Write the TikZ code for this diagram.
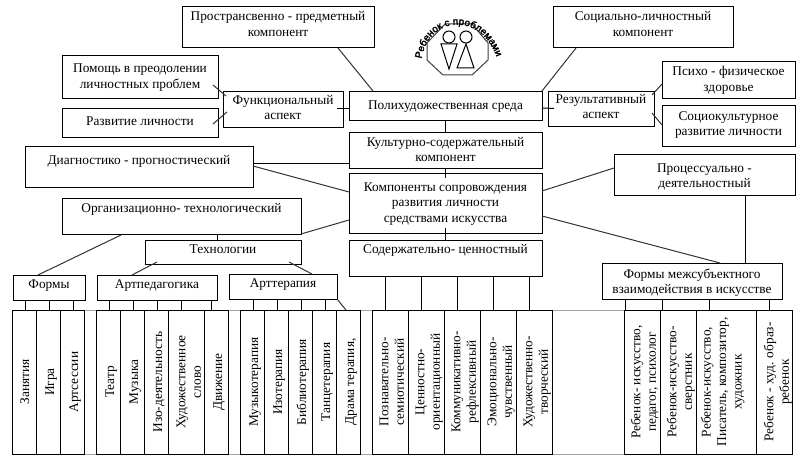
\documentclass[tikz,border=0pt]{standalone}
\usepackage{fontspec}
\setmainfont{Liberation Serif}
\newfontfamily\iconfont{Liberation Sans}[FakeBold=2.5]
\usetikzlibrary{calc,decorations.text}
\tikzset{
  boxst/.style={draw=black,line width=1pt,inner sep=0pt,outer sep=0pt,fill=white,
    font=\fontsize{13.33}{15.5}\selectfont},
  colst/.style={draw=black,line width=1pt,inner sep=0pt,outer sep=0pt,fill=white,
    rotate=90,minimum width=144pt,font=\fontsize{13.33}{15.5}\selectfont},
  link/.style={draw=black!80,line width=1pt},
  hlink/.style={draw=black,line width=1pt},
  iconline/.style={draw=black!75,line width=1pt},
}
\newcommand\bx[7]{%
  \node[boxst,minimum width={(#4-#2)*1pt},minimum height={(#5-#3)*1pt}]
    (#1) at ({(#2+#4)/2},{(#3+#5)/2})
    {\vbox to \dimexpr #5pt-#3pt\relax{\hsize=\dimexpr #4pt-#2pt\relax
      \centering\vskip\dimexpr #6pt-\ht\strutbox\relax
      \strut #7\strut\par\vss}};}
% name, x1, x2, sideways shift of the lines, lines
\newcommand\cl[5]{%
  \node[colst,minimum height={(#3-#2)*1pt}] (#1) at ({(#2+#3)/2},382)
    {\vbox to \dimexpr #3pt-#2pt\relax{\hsize=144pt
      \centering\vss\vskip #4pt
      \strut #5\strut\par\vskip -#4pt\vss}};}
\begin{document}
\begin{tikzpicture}[x=1pt,y=-1pt]
\useasboundingbox (0,0) rectangle (806,460);
\fill[white] (0,0) rectangle (806,460);
% faint rails behind the columns
\draw[black!35,line width=1pt] (12,310) -- (792,310) (12,454) -- (792,454);
% boxes
\bx{prostr}{182}{7}{374}{48}{14}{Пространсвенно - предметный\\компонент}
\bx{pomosch}{62}{56}{218}{98}{17}{Помощь в преодолении\\личностных проблем}
\bx{razv}{62}{108}{218}{137}{17}{Развитие личности}
\bx{funk}{223}{91}{343}{127}{13}{Функциональный\\аспект}
\bx{poli}{349}{91}{542}{120}{18}{Полихудожественная среда}
\bx{kult}{349}{132}{542}{168}{14}{Культурно-содержательный\\компонент}
\bx{komp}{349}{173}{542}{233}{18}{Компоненты сопровождения\\развития личности\\средствами искусства}
\bx{diag}{25}{146}{253}{187}{18}{Диагностико - прогностический}
\bx{org}{62}{198}{301}{234}{14}{Организационно- технологический}
\bx{soc}{553}{7}{733}{48}{14}{Социально-личностный\\компонент}
\bx{psi}{662}{62}{795}{98}{14}{Психо - физическое\\здоровье}
\bx{sockult}{662}{105}{795}{146}{15}{Социокультурное\\развитие личности}
\bx{rez}{548}{91}{654}{126}{12}{Результативный\\аспект}
\bx{proc}{614}{154}{795}{195}{18}{Процессуально -\\деятельностный}
\bx{tech}{145}{240}{301}{264}{13}{Технологии}
\bx{formy}{13}{275}{85}{300}{13}{Формы}
\bx{artped}{97}{275}{217}{300}{13}{Артпедагогика}
\bx{artter}{229}{274}{337}{299}{13}{Арттерапия}
\bx{soder}{349}{240}{542}{276}{13}{Содержательно- ценностный}
\bx{mezh}{602}{263}{782}{299}{15}{Формы межсубъектного\\взаимодействия в искусстве}
% columns
\cl{c1}{12}{36}{2}{Занятия}
\cl{c2}{36}{60}{3}{Игра}
\cl{c3}{60}{84}{3}{Артсессии}
\cl{c4}{96}{120}{3}{Театр}
\cl{c5}{120}{144}{3}{Музыка}
\cl{c6}{144}{168}{3}{Изо-деятельность}
\cl{c7}{168}{204}{4}{Художественное\\слово}
\cl{c8}{204}{228}{3}{Движение}
\cl{c9}{240}{264}{3}{Музыкотерапия}
\cl{c10}{264}{288}{3}{Изотерапия}
\cl{c11}{288}{312}{3}{Библиотерапия}
\cl{c12}{312}{336}{3}{Танцетерапия}
\cl{c13}{336}{360}{3}{Драма терапия,}
\cl{c14}{372}{408}{3}{Познавательно-\\семиотический}
\cl{c15}{408}{444}{3}{Ценностно-\\ориентационный}
\cl{c16}{444}{480}{3}{Коммуникативно-\\рефлексивный}
\cl{c17}{480}{516}{3}{Эмоционально-\\чувственный}
\cl{c18}{516}{552}{3}{Художественно-\\творческий}
\cl{c19}{624}{660}{3}{Ребенок- искусство,\\педагог, психолог}
\cl{c20}{660}{696}{3}{Ребенок-искусство-\\сверстник}
\cl{c21}{696}{756}{-3}{Ребенок-искусство,\\Писатель, композитор,\\художник}
\cl{c22}{756}{792}{4}{Ребенок - худ. образ-\\ребенок}
% drops to columns
\foreach \x in {25,49,73}{\draw[hlink] (formy.south -| \x,0) -- (c1.east -| \x,0);}
\foreach \x in {109,133,157,181,211}{\draw[hlink] (artped.south -| \x,0) -- (c4.east -| \x,0);}
\foreach \x in {253,277,301,325}{\draw[hlink] (artter.south -| \x,0) -- (c9.east -| \x,0);}
\foreach \x in {385,421,457,493,529}{\draw[hlink] (soder.south -| \x,0) -- (c14.east -| \x,0);}
\foreach \x in {625,662,709,769}{\draw[hlink] (mezh.south -| \x,0) -- (c19.east -| \x,0);}
% connectors
\draw[link] (prostr.south -| 338,0) -- (poli.north -| 373,0);
\draw[link] (soc.south -| 576,0) -- (poli.north east);
\draw[link] ($(pomosch.east)+(-5,8)$) -- ($(funk.west)+(3,-13)$);
\draw[link] ($(razv.east)+(-5,1.5)$) -- ($(funk.west)+(4,3)$);
\draw[hlink] ($(funk.east)+(-6,-1)$) -- (poli.west |- 0,108);
\draw[hlink] (poli.east |- 0,108) -- ($(rez.west)+(6,0)$);
\draw[link] ($(rez.east)+(-2,-13.5)$) -- (psi.west |- 0,84);
\draw[link] ($(rez.east)+(-2,4.5)$) -- (sockult.west |- 0,125);
\draw[hlink] (poli.south -| 445,0) -- (kult.north -| 445,0);
\draw[hlink] (kult.south -| 445,0) -- ($(komp.north -| 445,0)+(0,5)$);
\draw[hlink] ($(komp.south -| 445,0)+(0,-5)$) -- (soder.north -| 445,0);
\draw[hlink] (diag.east |- 0,163.5) -- (kult.west |- 0,163.5);
\draw[link] (diag.east |- 0,166) -- (komp.west |- 0,192);
\draw[link] (org.south east) -- (komp.west |- 0,220);
\draw[hlink] (org.south -| 217.5,0) -- (tech.north -| 217.5,0);
\draw[link] ($(org.south -| 121,0)+(0,1)$) -- (formy.north -| 38,0);
\draw[link] ($(tech.south -| 157,0)+(0,-2)$) -- (artped.north -| 132,0);
\draw[link] ($(tech.south -| 289,0)+(0,-2)$) -- (artter.north -| 312,0);
\draw[link] (artter.south east) -- (c13.east -| 346,0);
\draw[link] (komp.east |- 0,191) -- (proc.west |- 0,168);
\draw[link] (komp.east |- 0,216) -- (mezh.north -| 720,0);
\draw[hlink] (proc.south -| 745.5,0) -- (mezh.north -| 745.5,0);
% icon
\draw[iconline] (445,24) -- (472,24) -- (488,43) -- (488,60) -- (472,75) -- (443,75) -- (427,60) -- (427,43) -- cycle;
\draw[iconline,draw=black] (449,37) circle (6);
\draw[iconline,draw=black] (466,37) circle (6);
\draw[iconline,draw=black] (441,44) -- (457,44) -- (449,69) -- cycle;
\draw[iconline,draw=black] (466,44) -- (457,68) -- (474,68) -- cycle;
\path[decorate,decoration={text along path,text align=center,
   text={|\iconfont\fontsize{10}{11}\selectfont|Ребенок с проблемами}}]
   (421,64) .. controls (425,14) and (484,10) .. (498,62);
\end{tikzpicture}
\end{document}
